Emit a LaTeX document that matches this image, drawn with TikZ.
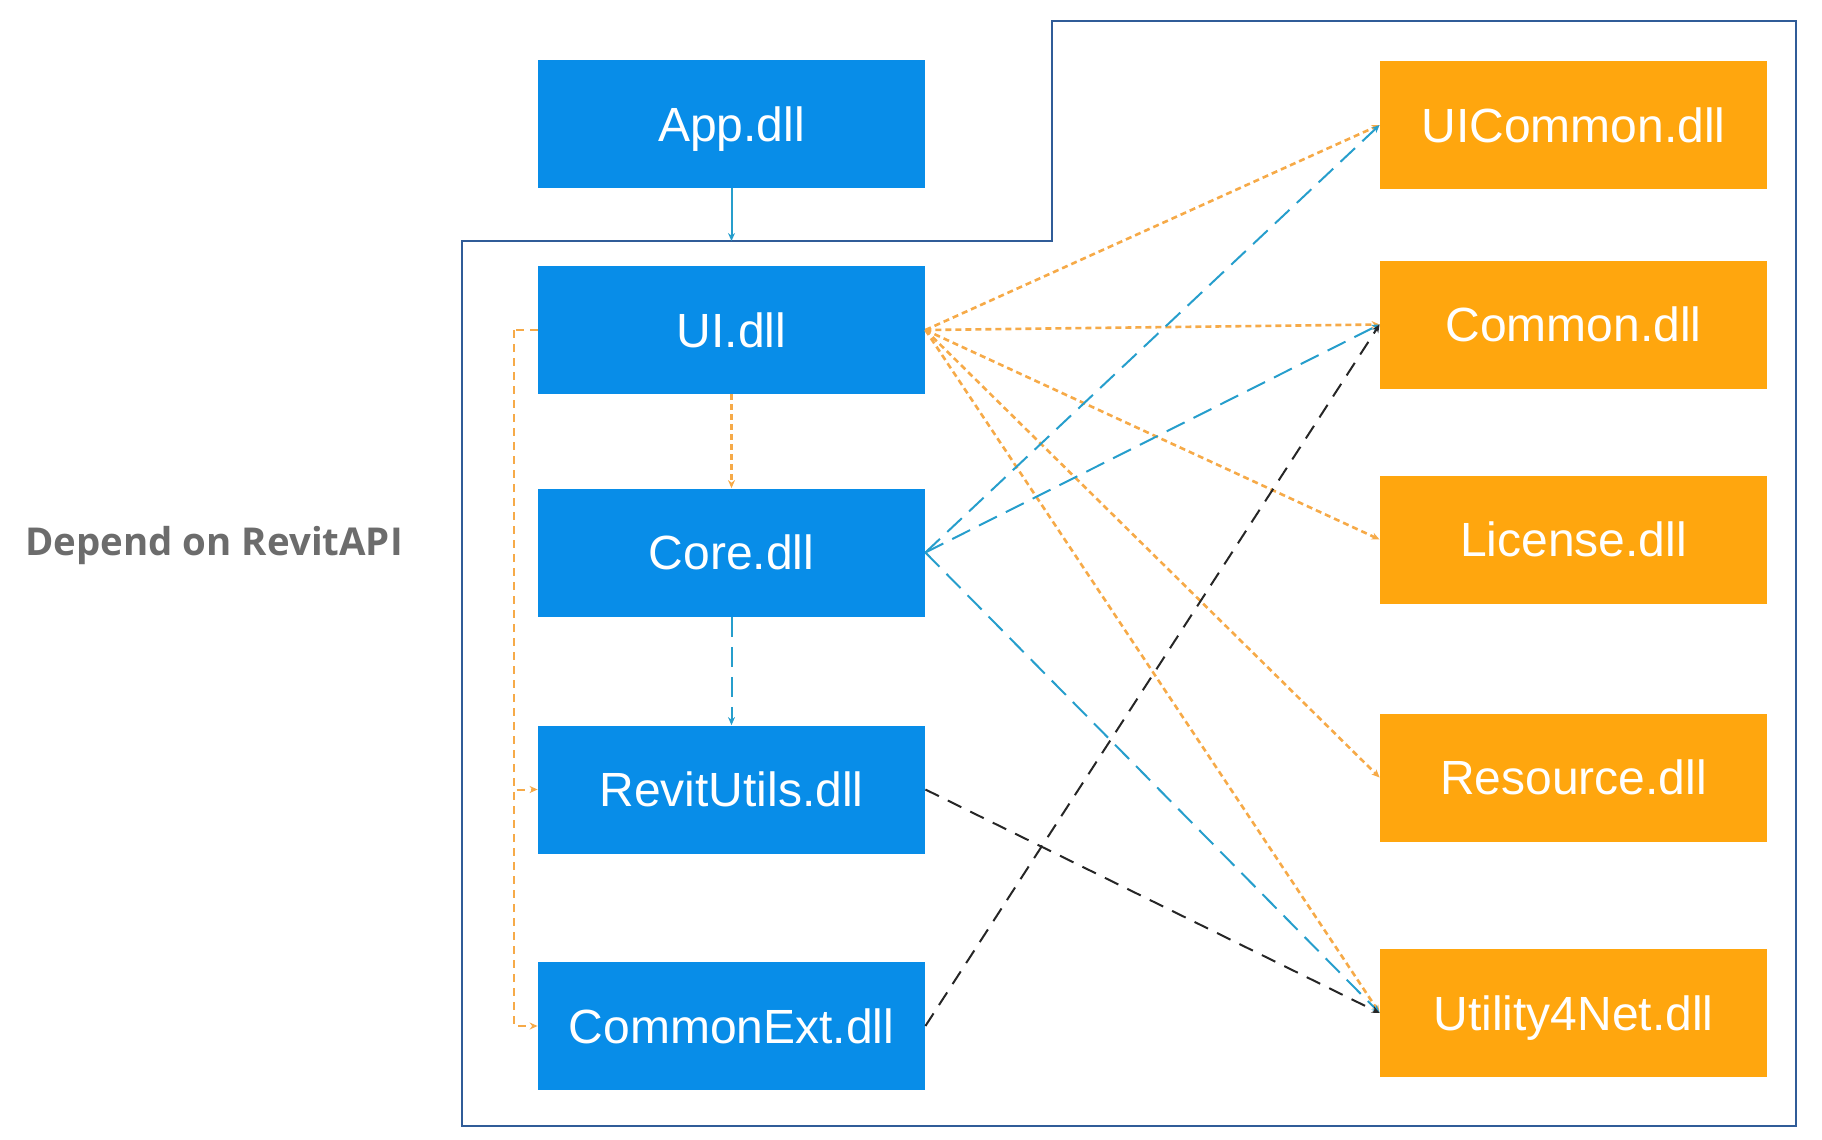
\documentclass[tikz,border=0pt]{standalone}
\usepackage{fontspec}
\setmainfont{Liberation Sans}
\newfontfamily\notefont{Open Sans}
\usetikzlibrary{arrows.meta}

\definecolor{dllblue}{RGB}{8,141,232}
\definecolor{dllorange}{RGB}{255,166,14}
\definecolor{framecol}{RGB}{48,92,152}
\definecolor{tealline}{RGB}{38,158,204}
\definecolor{orangeline}{RGB}{246,170,72}
\definecolor{notegray}{RGB}{108,108,108}

\begin{document}
\begin{tikzpicture}
		[x=0.5pt,y=-0.5pt,>={Stealth[length=4pt,width=3.5pt]}]
		\tikzstyle{dll}=[rectangle, inner sep=0pt, minimum width=193.5pt,
		minimum height=64pt, text=white, font=\fontsize{24}{28}\selectfont,
		text height=17.2pt, text depth=0pt]
		\tikzstyle{mainbox}=[dll, fill=dllblue]
		\tikzstyle{extbox}=[dll, fill=dllorange]
		\tikzstyle{uiline}=[orangeline, line width=1.3pt, dash pattern=on 3pt off 2pt]
		\tikzstyle{coreline}=[tealline, line width=1pt, dash pattern=on 10pt off 5pt]
		\tikzstyle{extline}=[black!85, line width=1pt, dash pattern=on 7.5pt off 5pt]
		\tikzstyle{railline}=[orangeline, line width=1pt, dash pattern=on 4pt off 3pt]
		\useasboundingbox (0,0) rectangle (1822,1140);
		%-----frame
		\draw[framecol, line width=1.2pt] (462,241) -- (1052,241) -- (1052,21)
		  -- (1796,21) -- (1796,1126) -- (462,1126) -- cycle;
		\node[font=\notefont\bfseries\fontsize{19.2}{23}\selectfont, text=notegray]
		  (note) at (214,546) {Depend on RevitAPI};
		%-----blue
		 \node[mainbox] (App)        at (731.5,124)  {App.dll};
		 \node[mainbox] (UI)         at (731.5,330)  {UI.dll};
		 \node[mainbox] (Core)       at (731.5,552.5) {Core.dll};
		 \node[mainbox] (RevitUtils) at (731.5,789.5) {RevitUtils.dll};
		 \node[mainbox] (CommonExt)  at (731.5,1026) {CommonExt.dll};
		%-----orange
		 \node[extbox] (UICommon) at (1573.5,125)   {UICommon.dll};
		 \node[extbox] (Common)   at (1573.5,324.5) {Common.dll};
		 \node[extbox] (License)  at (1573.5,539.5) {License.dll};
		 \node[extbox] (Resource) at (1573.5,777.5) {Resource.dll};
		 \node[extbox] (Utility)  at (1573.5,1013)  {Utility4Net.dll};
		 
		 \coordinate (entry) at (731.5,241);
		 \coordinate (rail) at (514,330);
		 
		 \draw[tealline, line width=1pt, ->] (App) -- (entry);
		 \draw[uiline, ->] (UI) -- (Core);
		 \draw[coreline, ->] (Core) -- (RevitUtils);
		 \draw[railline] (UI.west) -- (rail);
		 \foreach \to in {RevitUtils,CommonExt}
		 \draw[railline, ->] (rail) |- (\to.west);
		 
		 \foreach \to in {UICommon,Common,License,Resource,Utility}
		 \draw[uiline, ->] (UI.east) -- (\to.west);
		 \foreach \to in {UICommon,Common,Utility}
		 \draw[coreline, ->] (Core.east) -- (\to.west);
		 \foreach \from/\to in {RevitUtils/Utility,CommonExt/Common}
		 \draw[extline, ->] (\from.east) -- (\to.west);
		 
		\end{tikzpicture}
\end{document}
